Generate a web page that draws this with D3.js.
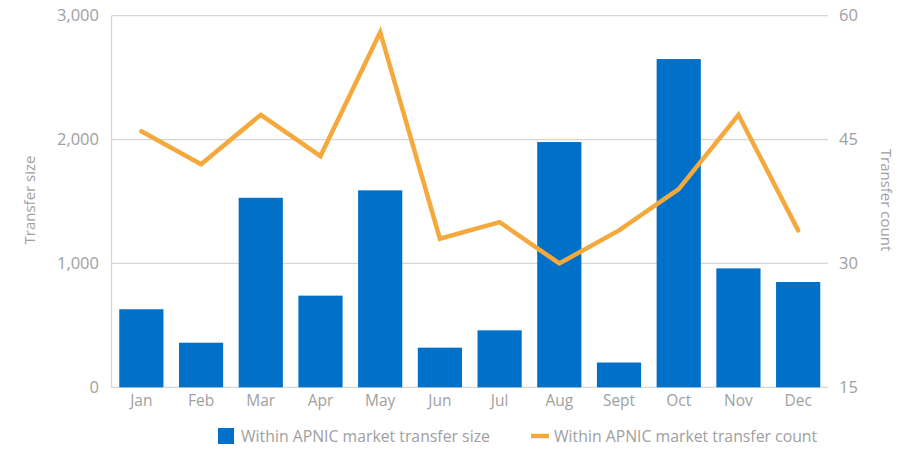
<!DOCTYPE html>
<html><head><meta charset="utf-8">
<script src="https://cdn.jsdelivr.net/npm/d3@7"></script>
<style>body{margin:0;background:#fff}svg text{font-family:"Open Sans",sans-serif}</style>
</head><body>
<svg id="c" width="908" height="449"></svg>
<script>
const months = ["Jan","Feb","Mar","Apr","May","Jun","Jul","Aug","Sept","Oct","Nov","Dec"];
const transferSize = [630, 360, 1530, 740, 1590, 320, 460, 1980, 200, 2650, 960, 850];
const transferCount = [46, 42, 48, 43, 58, 33, 35, 30, 34, 39, 48, 34];
const leftTicks = [0, 1000, 2000, 3000];
const rightTicks = [15, 30, 45, 60];
const seriesNames = ["Within APNIC market transfer size", "Within APNIC market transfer count"];
const axisTitles = ["Transfer size", "Transfer count"];

const svg = d3.select("#c");
const m = {l: 111.5, r: 828, t: 15.7, b: 387.3};
const textCol = "#a0a0a0", gridCol = "#d6d6d6", barCol = "#0070C8", lineCol = "#F5A93C";

const x = d3.scaleBand().domain(months).range([m.l, m.r]).paddingInner(0.26).paddingOuter(0.13);
const yL = d3.scaleLinear().domain([0, 3000]).range([m.b, m.t]);
const yR = d3.scaleLinear().domain([15, 60]).range([m.b, m.t]);

// gridlines
svg.append("g").selectAll("line").data(leftTicks).join("line")
  .attr("x1", m.l).attr("x2", m.r)
  .attr("y1", d => yL(d)).attr("y2", d => yL(d))
  .attr("stroke", gridCol).attr("stroke-width", 1.3);
// left axis line
svg.append("line").attr("x1", m.l).attr("x2", m.l).attr("y1", m.t).attr("y2", m.b)
  .attr("stroke", gridCol).attr("stroke-width", 1.3);

// bars
svg.append("g").selectAll("rect").data(transferSize).join("rect")
  .attr("x", (d, i) => x(months[i])).attr("width", x.bandwidth())
  .attr("y", d => yL(d)).attr("height", d => yL(0) - yL(d))
  .attr("fill", barCol);

// line
const line = d3.line().x((d, i) => x(months[i]) + x.bandwidth() / 2).y(d => yR(d));
svg.append("path").datum(transferCount).attr("d", line)
  .attr("fill", "none").attr("stroke", lineCol).attr("stroke-width", 4.5)
  .attr("stroke-linejoin", "miter").attr("stroke-linecap", "round");

// left axis labels
const fmt = d3.format(",");
svg.append("g").selectAll("text").data(leftTicks).join("text")
  .attr("x", 99).attr("y", d => yL(d)).attr("dy", "0.35em")
  .attr("text-anchor", "end").attr("fill", textCol).attr("font-size", 16.5)
  .text(d => fmt(d));
// right axis labels
svg.append("g").selectAll("text").data(rightTicks).join("text")
  .attr("x", 839).attr("y", d => yR(d)).attr("dy", "0.35em")
  .attr("text-anchor", "start").attr("fill", textCol).attr("font-size", 16.5)
  .text(d => d);
// month labels
svg.append("g").selectAll("text").data(months).join("text")
  .attr("x", d => x(d) + x.bandwidth() / 2).attr("y", 406)
  .attr("text-anchor", "middle").attr("fill", textCol).attr("font-size", 15.5)
  .text(d => d);

// axis titles
svg.append("text").attr("transform", "translate(35,200) rotate(-90)")
  .attr("text-anchor", "middle").attr("fill", textCol).attr("font-size", 15)
  .text(axisTitles[0]);
svg.append("text").attr("transform", "translate(881,200) rotate(90)")
  .attr("text-anchor", "middle").attr("fill", textCol).attr("font-size", 15)
  .text(axisTitles[1]);

// legend
const lg = svg.append("g");
lg.append("rect").attr("x", 218).attr("y", 428).attr("width", 16).attr("height", 16).attr("fill", barCol);
lg.append("text").attr("x", 241).attr("y", 436).attr("dy", "0.35em").attr("fill", textCol)
  .attr("font-size", 15.8).text(seriesNames[0]);
lg.append("line").attr("x1", 531).attr("x2", 549).attr("y1", 436).attr("y2", 436)
  .attr("stroke", lineCol).attr("stroke-width", 4.5);
lg.append("text").attr("x", 554).attr("y", 436).attr("dy", "0.35em").attr("fill", textCol)
  .attr("font-size", 15.8).text(seriesNames[1]);
</script>
</body></html>
